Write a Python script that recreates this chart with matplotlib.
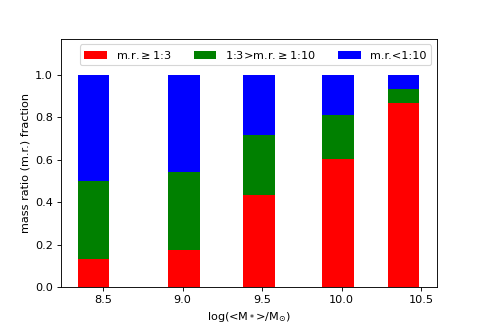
import numpy as np
import matplotlib
matplotlib.use("Agg")
import matplotlib.pyplot as plt

# median log stellar mass of each bin
mass_bins = [8.44, 9.01, 9.48, 9.98, 10.39]

# fractions per mass-ratio class
major = np.array([0.136, 0.178, 0.435, 0.603, 0.868])
minor = np.array([0.363, 0.363, 0.282, 0.209, 0.066])
tiny = 1.0 - major - minor

labels = [r"m.r.$\geq$1:3", r"1:3>m.r.$\geq$1:10", "m.r.<1:10"]

fig = plt.figure(figsize=(485 / 81, 323 / 81), dpi=81)
ax = fig.add_subplot(111)

ax.bar(mass_bins, major, width=0.2, color="red", label=labels[0])
ax.bar(mass_bins, minor, width=0.2, bottom=major, color="green", label=labels[1])
ax.bar(mass_bins, tiny, width=0.2, bottom=major + minor, color="blue", label=labels[2])

ax.set_xticks([8.5, 9.0, 9.5, 10.0, 10.5])
ax.set_ylim(0, 1.17)
ax.set_yticks([0.0, 0.2, 0.4, 0.6, 0.8, 1.0])
ax.set_xlabel(r"log(<M$_*$>/M$_{\odot}$)")
ax.set_ylabel("mass ratio (m.r.) fraction")
ax.legend(loc="upper right", ncol=3)

plt.savefig("out.png", dpi=81)
